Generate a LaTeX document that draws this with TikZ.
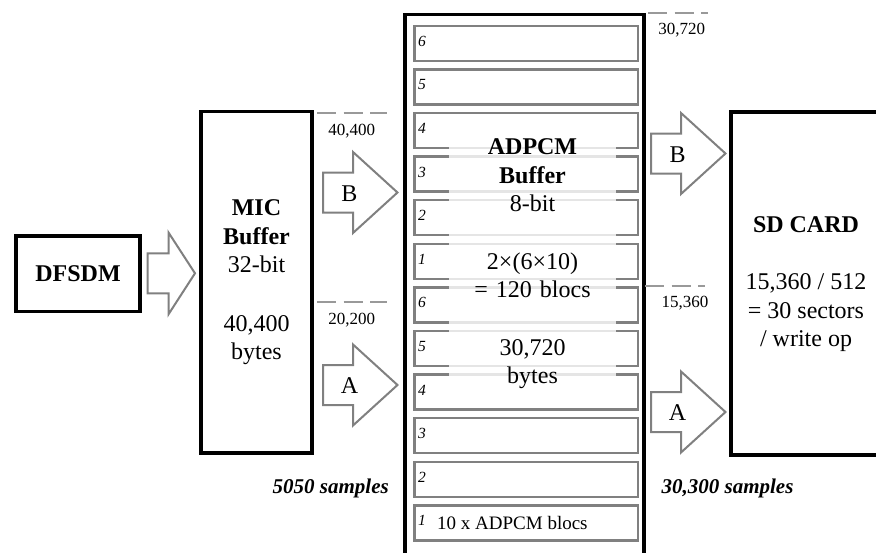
\documentclass[tikz,border=0pt]{standalone}
\usepackage{fontspec}
\setmainfont{Liberation Serif}

\begin{document}
\begin{tikzpicture}[x=1pt,y=-1pt,
	box/.style		=	{draw=black,line width=3.5pt,inner sep=0pt},
	slot box/.style	=	{draw=black!50,line width=2.5pt,minimum width=223.5pt,minimum height=35pt,inner sep=0pt,anchor=north west},
	slot num/.style	=	{font=\fontsize{15.5}{17}\selectfont\itshape,anchor=west,inner sep=0pt},
	flow arrow/.style	=	{draw=black!50,line width=2pt,line join=miter,fill=white},
	marker/.style		=	{draw=black!40,line width=2pt,dash pattern=on 19pt off 7.5pt},
	big text/.style	=	{font=\fontsize{24}{28.5}\selectfont,align=center},
	small text/.style	=	{font=\fontsize{17}{20}\selectfont,inner sep=0pt},
	sample label/.style	=	{font=\fontsize{21}{24}\selectfont\bfseries\itshape,inner sep=0pt}]

	\useasboundingbox (0,0) rectangle (876,552);
	\clip (0,0) rectangle (876,552);
	\fill[white] (0,0) rectangle (876,552);

	\node[box,big text,minimum width=124pt,minimum height=75.5pt] (dfsdm) at (78,273.8) {\textbf{DFSDM}};
	\node[box,big text,minimum width=111pt,minimum height=341.5pt] (mic) at (256.5,282.3)
		{\textbf{MIC}\\\textbf{Buffer}\\32-bit\\[30pt]40,400\\bytes};

	\node[box,minimum width=239pt,minimum height=600pt,anchor=north west] (adpcm) at (403,12.5) {};
	\foreach \n [count=\i from 0] in {6,5,4,3,2,1,6,5,4,3,2,1}{
		\node[slot box] (slot\i) at (413,24.5+43.6*\i) {};
		\node[slot num] (num\i) at ([xshift=5pt,yshift=2pt]slot\i.west) {\n};
	}
	\node[font=\fontsize{19}{22}\selectfont,anchor=west,inner sep=0pt] (blocs) at ([xshift=24pt]slot11.west) {10 x ADPCM blocs};
	\node[big text,fill=white,fill opacity=.8,text opacity=1,text width=167pt,inner sep=0pt] (adpcm text) at (532.5,264)
		{\textbf{ADPCM}\\\textbf{Buffer}\\8-bit\\[29pt]2×(6×10)\\= 120 blocs\\[29pt]30,720\\bytes};

	\node[box,minimum width=200pt,minimum height=343pt,anchor=north west] (sd) at (729,110) {};
	\node[big text] (sd text) at (806,284) {\textbf{SD CARD}\\[29pt]15,360 / 512\\= 30 sectors\\/ write op};

	\draw[flow arrow] (147.5,253.3) -- ++(21,0) -- ++(0,-20.8) -- (195,273.3) -- (168.5,314.3) -- ++(0,-21) -- (147.5,293.3) -- cycle;
	\foreach \tx/\cy/\lbl [count=\k] in {323/192.5/B,323/385/A,651/153.5/B,651/412/A}{
		\draw[flow arrow] (\tx,\cy-20) -- ++(30,0) -- ++(0,-20.5) -- ++(44.5,40.5) -- ++(-44.5,40.5) -- ++(0,-20.5) -- ++(-30,0) -- cycle;
		\node[big text] (arrow\k) at (\tx+26.5,\cy+1) {\lbl};
	}

	\draw[marker] (317,113) -- (387,113);
	\draw[marker] (317,301.5) -- (387,301.5);
	\draw[marker] (648,12.7) -- (708,12.7);
	\draw[marker] (645,285.7) -- (705,285.7);
	\node[small text] (mark top) at (351.7,131.5) {40,400};
	\node[small text] (mark half) at (351.7,320) {20,200};
	\node[small text] (sd top) at (681.7,30) {30,720};
	\node[small text] (sd half) at (685,303.3) {15,360};

	\node[sample label] (mic samples) at (330.7,488) {5050 samples};
	\node[sample label] (sd samples) at (727.5,488) {30,300 samples};
\end{tikzpicture}
\end{document}
